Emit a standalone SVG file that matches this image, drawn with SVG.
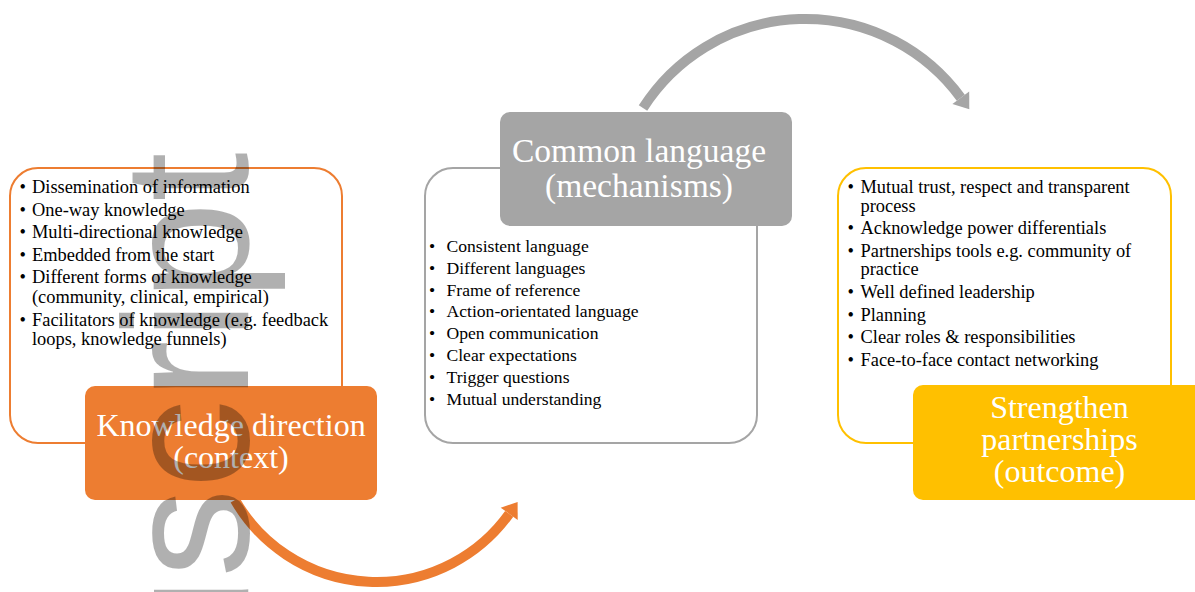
<svg xmlns="http://www.w3.org/2000/svg" width="1195" height="592" viewBox="0 0 1195 592">
  <style>
    .outline { fill: #FFFFFF; stroke-width: 2; }
    .body { font-family: "Liberation Serif", "Times New Roman", serif; fill: #000000; }
    .title { font-family: "Liberation Serif", "Times New Roman", serif; fill: #FFFFFF; text-anchor: middle; }
    .arc { fill: none; stroke-width: 10; }
    .wm { font-family: "Liberation Sans", Arial, sans-serif; font-size: 178px; fill: #000000; fill-opacity: 0.31; }
  </style>
  <rect width="1195" height="592" fill="#FFFFFF"/>

  <g id="connectors">
    <path class="arc" stroke="#ED7D31" d="M 235 500 A 163.2 163.2 0 0 0 509.2 513.8"/>
    <polygon fill="#ED7D31" points="517.6,502.1 517.7,519.9 500.7,507.7"/>
    <path class="arc" stroke="#A5A5A5" d="M 643 108 A 192.7 192.7 0 0 1 960.8 97.7"/>
    <polygon fill="#A5A5A5" points="969.3,109.3 969.2,91.5 952.4,103.9"/>
  </g>

  <g id="node-knowledge">
    <rect class="outline" stroke="#ED7D31" x="10" y="168" width="332" height="275" rx="28"/>
    <g class="body" font-size="18.4">
      <text x="19.5" y="193">•</text><text x="32" y="193">Dissemination of information</text>
      <text x="19.5" y="215.5">•</text><text x="32" y="215.5">One-way knowledge</text>
      <text x="19.5" y="238">•</text><text x="32" y="238">Multi-directional knowledge</text>
      <text x="19.5" y="260.5">•</text><text x="32" y="260.5">Embedded from the start</text>
      <text x="19.5" y="283">•</text><text x="32" y="283">Different forms of knowledge</text>
      <text x="32" y="302.5">(community, clinical, empirical)</text>
      <text x="19.5" y="325.5">•</text><text x="32" y="325.5">Facilitators of knowledge (e.g. feedback</text>
      <text x="32" y="345">loops, knowledge funnels)</text>
    </g>
    <rect fill="#ED7D31" x="85" y="386" width="292" height="114" rx="10"/>
    <text class="title" font-size="32" x="231" y="436">Knowledge direction</text>
    <text class="title" font-size="32" x="231" y="468">(context)</text>
  </g>

  <g id="node-language">
    <rect class="outline" stroke="#A5A5A5" x="425" y="168" width="332" height="275" rx="28"/>
    <rect fill="#A5A5A5" x="500" y="112" width="292" height="114" rx="10"/>
    <text class="title" font-size="33.5" x="639" y="162">Common language</text>
    <text class="title" font-size="33.5" x="639" y="196.5">(mechanisms)</text>
    <g class="body" font-size="17.6">
      <text x="429" y="251.7">•</text><text x="446.5" y="251.7">Consistent language</text>
      <text x="429" y="273.6">•</text><text x="446.5" y="273.6">Different languages</text>
      <text x="429" y="295.5">•</text><text x="446.5" y="295.5">Frame of reference</text>
      <text x="429" y="317.4">•</text><text x="446.5" y="317.4">Action-orientated language</text>
      <text x="429" y="339.3">•</text><text x="446.5" y="339.3">Open communication</text>
      <text x="429" y="361.2">•</text><text x="446.5" y="361.2">Clear expectations</text>
      <text x="429" y="383.1">•</text><text x="446.5" y="383.1">Trigger questions</text>
      <text x="429" y="405">•</text><text x="446.5" y="405">Mutual understanding</text>
    </g>
  </g>

  <g id="node-partnerships">
    <rect class="outline" stroke="#FFC000" x="838" y="168" width="333" height="275" rx="28"/>
    <g class="body" font-size="18.4">
      <text x="847.5" y="193.3">•</text><text x="860.5" y="193.3">Mutual trust, respect and transparent</text>
      <text x="860.5" y="211.7">process</text>
      <text x="847.5" y="234">•</text><text x="860.5" y="234">Acknowledge power differentials</text>
      <text x="847.5" y="256.7">•</text><text x="860.5" y="256.7">Partnerships tools e.g. community of</text>
      <text x="860.5" y="275">practice</text>
      <text x="847.5" y="298.3">•</text><text x="860.5" y="298.3">Well defined leadership</text>
      <text x="847.5" y="321">•</text><text x="860.5" y="321">Planning</text>
      <text x="847.5" y="343.3">•</text><text x="860.5" y="343.3">Clear roles &amp; responsibilities</text>
      <text x="847.5" y="365.7">•</text><text x="860.5" y="365.7">Face-to-face contact networking</text>
    </g>
    <rect fill="#FFC000" x="913" y="385" width="292" height="115" rx="10"/>
    <text class="title" font-size="32" x="1059.5" y="418">Strengthen</text>
    <text class="title" font-size="32" x="1059.5" y="450">partnerships</text>
    <text class="title" font-size="32" x="1059.5" y="482">(outcome)</text>
  </g>

  <text class="wm" transform="translate(248,1022.8) rotate(-90)">Manuscript</text>
</svg>
